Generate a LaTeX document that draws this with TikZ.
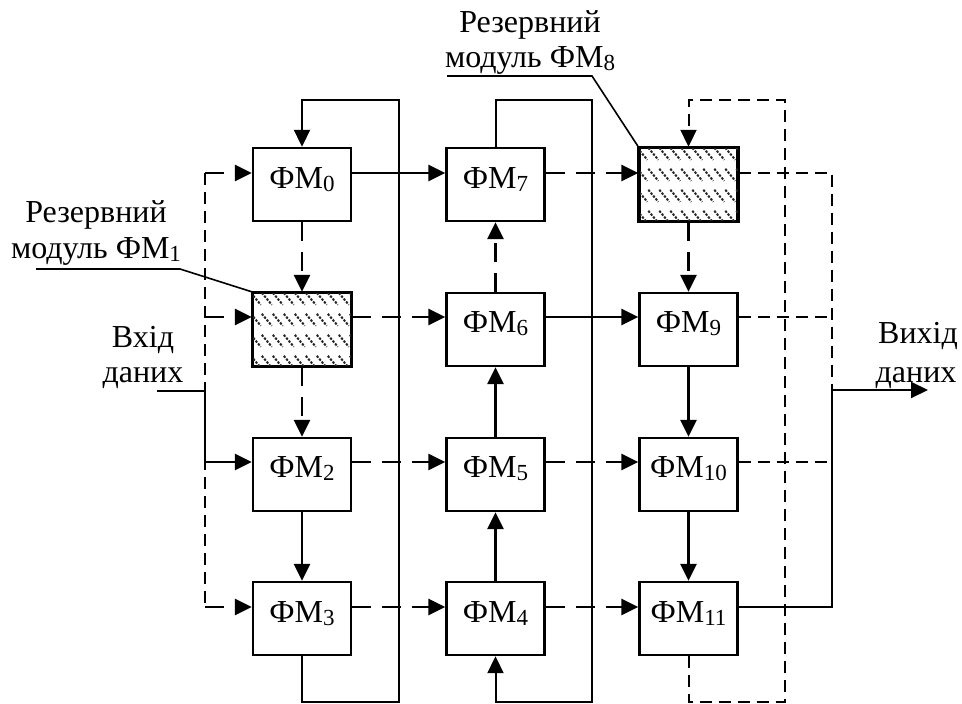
\documentclass[tikz,border=0pt]{standalone}
\usepackage{fontspec}
\setmainfont{Liberation Serif}
\usetikzlibrary{arrows.meta,calc}
\newcommand\fmsub[1]{\raisebox{-3pt}{\fontsize{23}{23}\selectfont #1}}
\begin{document}
\begin{tikzpicture}[x=1pt,y=-1pt,
  font=\fontsize{32}{36}\selectfont,
  fmbox/.style={draw,line width=2.4pt,minimum width=98pt,minimum height=73pt,inner sep=0pt},
  fmtext/.style={inner sep=0pt,anchor=base},
  lbl/.style={inner sep=0pt,anchor=base},
  tip/.style={-{Triangle[length=17pt,width=16pt]}},
  sarr/.style={tip,line width=2.6pt},
  darr/.style={tip,line width=2.6pt,dash pattern=on 19pt off 11pt},
  sline/.style={line width=2pt},
  dline/.style={line width=2pt,dash pattern=on 12pt off 7pt},
  darrthin/.style={tip,line width=2pt,dash pattern=on 12pt off 7pt},
  leader/.style={line width=1.6pt},
  hatch/.style={line width=2pt,black!85,dash pattern=on 2.4pt off 1.4pt}
]
\useasboundingbox (0,0) rectangle (962,704);
% row / column helper coordinates
\coordinate (r0) at (0,173);
\coordinate (r1) at (0,317);
\coordinate (r2) at (0,462);
\coordinate (r3) at (0,607);
\coordinate (ytop) at (0,100);
\coordinate (ybot) at (0,702);
\coordinate (lb) at (205,0);
\coordinate (ob) at (832,0);
\coordinate (c1r) at (399,0);
\coordinate (c2r) at (592,0);
\coordinate (c3r) at (785,0);
\coordinate (outy) at (0,390);
% boxes
\node[fmbox] (m0) at (302,184.5) {};
\node[fmbox] (m1) at (302,329.5) {};
\node[fmbox] (m2) at (302,474.5) {};
\node[fmbox] (m3) at (302,618.5) {};
\node[fmbox] (m7) at (495.5,184.5) {};
\node[fmbox] (m6) at (495.5,329.5) {};
\node[fmbox] (m5) at (495.5,474.5) {};
\node[fmbox] (m4) at (495.5,618.5) {};
\node[fmbox] (m8) at (688.5,184.5) {};
\node[fmbox] (m9) at (688.5,329.5) {};
\node[fmbox] (m10) at (688.5,474.5) {};
\node[fmbox] (m11) at (688.5,618.5) {};
% hatching of reserve modules
\foreach \m in {m1,m8}{
  \begin{scope}
    \clip (\m.north west) rectangle (\m.south east);
    \foreach \r in {7,28,49,70}{
      \foreach \c in {4,15,...,110}{
        \draw[hatch] ($(\m.north west)+(\c-5,\r-6)$) -- ($(\m.north west)+(\c+5,\r+6)$);
      }
    }
  \end{scope}
  \draw[line width=2.4pt] (\m.north west) rectangle (\m.south east);
}
% box texts
\node[fmtext] (t0) at (302,188) {ФМ\fmsub{0}};
\node[fmtext] (t2) at (302,477) {ФМ\fmsub{2}};
\node[fmtext] (t3) at (302,622) {ФМ\fmsub{3}};
\node[fmtext] (t7) at (495.5,188) {ФМ\fmsub{7}};
\node[fmtext] (t6) at (495.5,332) {ФМ\fmsub{6}};
\node[fmtext] (t5) at (495.5,477) {ФМ\fmsub{5}};
\node[fmtext] (t4) at (495.5,622) {ФМ\fmsub{4}};
\node[fmtext] (t9) at (688.5,332) {ФМ\fmsub{9}};
\node[fmtext] (t10) at (688.5,477) {ФМ\fmsub{10}};
\node[fmtext] (t11) at (688.5,622) {ФМ\fmsub{11}};
% labels
\node[lbl] (la1) at (96,222) {Резервний};
\node[lbl] (la2) at (96,258) {модуль ФМ\fmsub{1}};
\node[lbl] (lb1) at (530,32) {Резервний};
\node[lbl] (lb2) at (530,67) {модуль ФМ\fmsub{8}};
\node[lbl] (in1) at (143,347) {Вхід};
\node[lbl] (in2) at (143,382) {даних};
\node[lbl] (out1) at (918,343) {Вихід};
\node[lbl] (out2) at (916,382) {даних};
% leader lines
\coordinate (lu1) at (36,269);
\coordinate (lu2) at (180,269);
\coordinate (lt1) at (447,76);
\coordinate (lt2) at (592,76);
\draw[leader] (lu1) -- (lu2) -- (m1.north west);
\draw[leader] (lt1) -- (lt2) -- (m8.north west);
% left dashed bus
\draw[dline] (lb|-r0) -- (lb|-r3);
\draw[darr] (lb|-r0) -- (m0.west|-r0);
\draw[darr] (lb|-r1) -- (m1.west|-r1);
\draw[darr] (lb|-r3) -- (m3.west|-r3);
% data input
\coordinate (inp) at (157,391);
\draw[sarr] (inp) -- (lb|-inp) -- (lb|-r2) -- (m2.west|-r2);
% column 1 verticals
\draw[darr] (m0.south) -- (m1.north);
\draw[darr] (m1.south) -- (m2.north);
\draw[sarr] (m2.south) -- (m3.north);
% column 2 verticals
\draw[sarr] (m4.north) -- (m5.south);
\draw[sarr] (m5.north) -- (m6.south);
\draw[darr] (m6.north) -- (m7.south);
% column 3 verticals
\draw[darr] (m8.south) -- (m9.north);
\draw[sarr] (m9.south) -- (m10.north);
\draw[sarr] (m10.south) -- (m11.north);
% horizontal links col1 -> col2
\draw[sarr] (m0.east|-r0) -- (m7.west|-r0);
\draw[darr] (m1.east|-r1) -- (m6.west|-r1);
\draw[darr] (m2.east|-r2) -- (m5.west|-r2);
\draw[darr] (m3.east|-r3) -- (m4.west|-r3);
% horizontal links col2 -> col3
\draw[darr] (m7.east|-r0) -- (m8.west|-r0);
\draw[sarr] (m6.east|-r1) -- (m9.west|-r1);
\draw[darr] (m5.east|-r2) -- (m10.west|-r2);
\draw[darr] (m4.east|-r3) -- (m11.west|-r3);
% loops
\draw[sline,tip] (m3.south) -- (m3.south|-ybot) -- (c1r|-ybot) -- (c1r|-ytop) -- (m0.north|-ytop) -- (m0.north);
\draw[sline,tip] (m7.north) -- (m7.north|-ytop) -- (c2r|-ytop) -- (c2r|-ybot) -- (m4.south|-ybot) -- (m4.south);
\draw[darrthin] (m11.south) -- (m11.south|-ybot) -- (c3r|-ybot) -- (c3r|-ytop) -- (m8.north|-ytop) -- (m8.north);
% outputs
\draw[dline] (m8.east|-r0) -- (ob|-r0) -- (ob|-outy);
\draw[dline] (m9.east|-r1) -- (ob|-r1);
\draw[dline] (m10.east|-r2) -- (ob|-r2);
\draw[sline] (m11.east|-r3) -- (ob|-r3) -- (ob|-outy);
\coordinate (outend) at (928,390);
\draw[sline,tip] (ob|-outy) -- (outend);
\end{tikzpicture}
\end{document}
